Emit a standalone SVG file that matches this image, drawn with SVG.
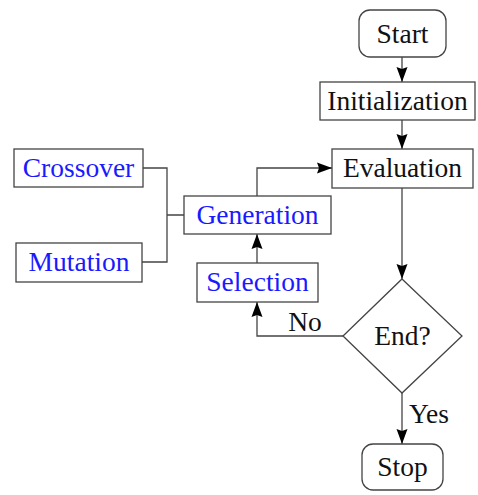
<svg xmlns="http://www.w3.org/2000/svg" width="478" height="495" viewBox="0 0 478 495">
<style>
.box{fill:#fff;stroke:#444;stroke-width:1.3}
.t{font-family:"Liberation Serif","Times New Roman",serif;font-size:27.5px;text-anchor:middle;fill:#111}
.b{fill:#1a1aff}
.c{fill:none;stroke:#444;stroke-width:1.3}
</style>
<defs>
<marker id="ah" markerWidth="16" markerHeight="12" refX="15" refY="6" orient="auto" markerUnits="userSpaceOnUse">
<path d="M0,0.5 L15,6 L0,11.5 L2,6 Z" fill="#000"/>
</marker>
</defs>
<rect width="478" height="495" fill="#fff"/>
<g id="connectors">
<path class="c" d="M402,57 V82" marker-end="url(#ah)"/>
<path class="c" d="M402,120 V149" marker-end="url(#ah)"/>
<path class="c" d="M402,188 V279" marker-end="url(#ah)"/>
<path class="c" d="M257,196 V168 H332" marker-end="url(#ah)"/>
<path class="c" d="M257,263 V234" marker-end="url(#ah)"/>
<path class="c" d="M343,336 H257 V302" marker-end="url(#ah)"/>
<path class="c" d="M402,393 V444" marker-end="url(#ah)"/>
<path class="c" d="M143,168 H167 V262 H142 M167,215 H184"/>
<text class="t" x="305" y="331">No</text>
<text class="t" x="429" y="423">Yes</text>
</g>
<g id="start"><rect class="box" x="359" y="10" width="87" height="47" rx="11"/><text class="t" x="402.5" y="43">Start</text></g>
<g id="initialization"><rect class="box" x="320" y="82" width="155" height="38"/><text class="t" x="397.5" y="110">Initialization</text></g>
<g id="evaluation"><rect class="box" x="332" y="149" width="141" height="39"/><text class="t" x="402.5" y="177">Evaluation</text></g>
<g id="crossover"><rect class="box" x="14" y="149" width="129" height="38"/><text class="t b" x="78.5" y="177">Crossover</text></g>
<g id="mutation"><rect class="box" x="16" y="243" width="126" height="39"/><text class="t b" x="79" y="271">Mutation</text></g>
<g id="generation"><rect class="box" x="184" y="196" width="147" height="38"/><text class="t b" x="257.5" y="224">Generation</text></g>
<g id="selection"><rect class="box" x="197" y="263" width="121" height="39"/><text class="t b" x="257.5" y="291">Selection</text></g>
<g id="end"><path class="box" d="M402,279 L462,336 L402,393 L343,336 Z"/><text class="t" x="402.5" y="345">End?</text></g>
<g id="stop"><rect class="box" x="362" y="444" width="81" height="46" rx="11"/><text class="t" x="402.5" y="476">Stop</text></g>
</svg>
